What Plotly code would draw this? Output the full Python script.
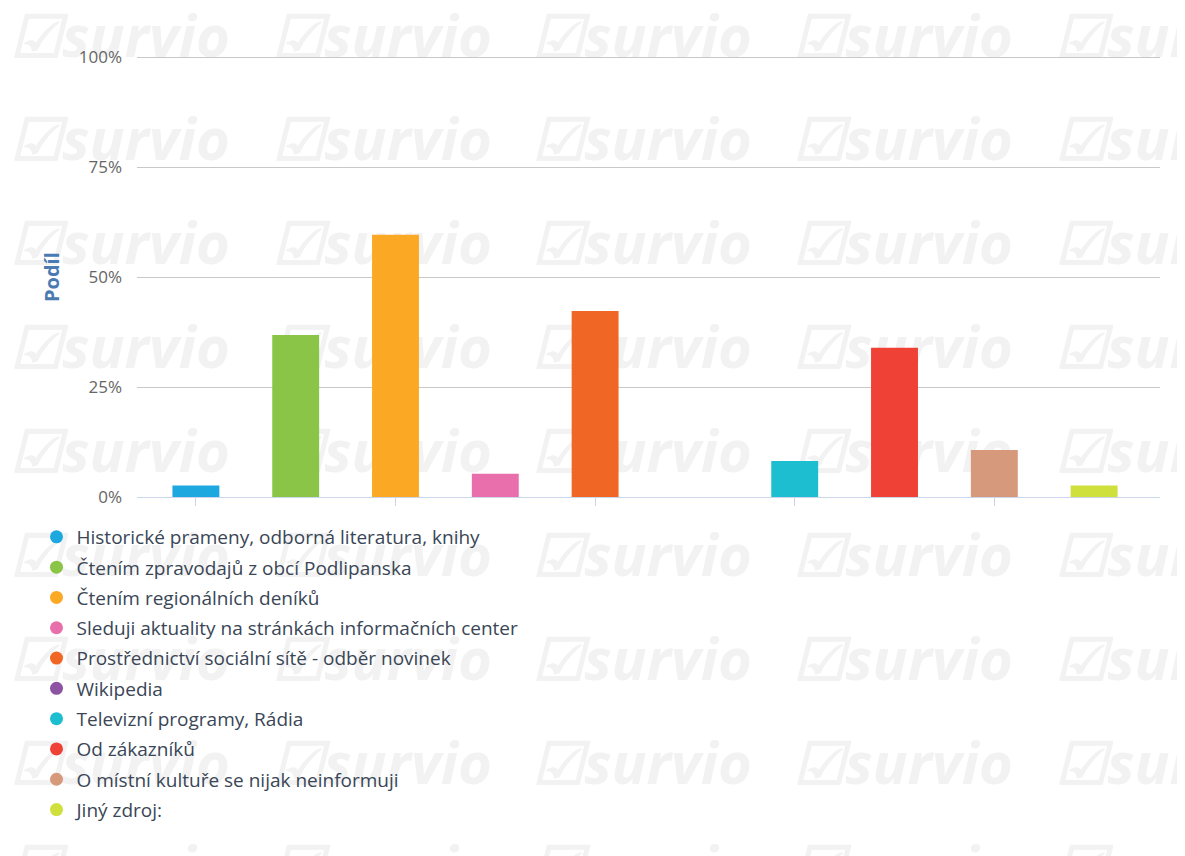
import plotly.graph_objects as go

categories = [
    "Historické prameny, odborná literatura, knihy",
    "Čtením zpravodajů z obcí Podlipanska",
    "Čtením regionálních deníků",
    "Sleduji aktuality na stránkách informačních center",
    "Prostřednictví sociální sítě - odběr novinek",
    "Wikipedia",
    "Televizní programy, Rádia",
    "Od zákazníků",
    "O místní kultuře se nijak neinformuji",
    "Jiný zdroj:",
]
values = [2.6, 36.8, 59.6, 5.3, 42.3, 0.0, 8.2, 33.9, 10.7, 2.6]
colors = ["#1ea8e0", "#8bc547", "#fba924", "#e86fab", "#f06625",
          "#8d53a3", "#1cbed0", "#ef4136", "#d6997b", "#cfdf3b"]
y_ticks = [0, 25, 50, 75, 100]
y_tick_labels = ["0%", "25%", "50%", "75%", "100%"]

OFF = 8  # page body margin
W, H = 1185 - OFF, 856 - OFF
L, T = 137 - OFF, 50 - OFF
R = W - (1160 - OFF)
B = H - (497 - OFF)
pw, ph = W - L - R, H - T - B
y_top = 100 * ph / 440.0

fig = go.Figure()

fig.add_trace(go.Bar(
    x=categories, y=values, marker=dict(color=colors, line=dict(width=0)),
    width=0.47, showlegend=False, hoverinfo="skip",
))

for i, (c, col) in enumerate(zip(categories, colors)):
    fig.add_trace(go.Scatter(
        x=[None], y=[None], mode="markers", name=c, legendgroup=f"g{i}",
        marker=dict(symbol="circle", size=13, color=col),
    ))

# watermark tiles (background), page coordinates of tile centre
shapes = []
cols = [15, 277, 537, 798, 1060]
rows = [55, 158, 262, 366, 470, 574, 678, 782, 886]
for bx in cols:
    for by in rows:
        cx = bx + 105 - OFF
        cy = by - 17 - OFF
        x0, x1 = cx - 120, cx + 120
        y0, y1 = cy - 35, cy + 35
        shapes.append(dict(
            type="rect", xref="paper", yref="paper", layer="below",
            x0=(x0 - L) / pw, x1=(x1 - L) / pw,
            y0=(H - B - y1) / ph, y1=(H - B - y0) / ph,
            line=dict(width=0), fillcolor="rgba(0,0,0,0)",
            label=dict(text="☑survio", textposition="middle center",
                       font=dict(family="Open Sans", size=58, color="#f2f2f2",
                                 weight="bold", style="italic")),
        ))

fig.update_layout(
    width=W, height=H,
    margin=dict(l=L, r=R, t=T, b=B, autoexpand=False),
    paper_bgcolor="white", plot_bgcolor="rgba(0,0,0,0)",
    font=dict(family="Open Sans", color="#666666"),
    shapes=shapes,
    showlegend=True,
    legend=dict(
        xref="container", yref="container", x=28.5 / W, y=1 - 510 / H,
        xanchor="left", yanchor="top", orientation="v",
        font=dict(size=19, color="#3a4656", family="Open Sans"),
        tracegroupgap=2.6, bgcolor="rgba(0,0,0,0)",
    ),
    xaxis=dict(
        type="category", categoryorder="array", categoryarray=categories,
        range=[-0.59, 9.66], showgrid=False,
        tickvals=categories[0::2], ticktext=[""] * 5, showticklabels=False,
        ticks="outside", ticklen=8, tickcolor="#ccd6eb", tickwidth=1,
        showline=True, linecolor="#ccd6eb", linewidth=1, zeroline=False,
    ),
    yaxis=dict(
        range=[0, y_top], tickvals=y_ticks, ticktext=y_tick_labels,
        showgrid=True, gridcolor="#c8c8c8", gridwidth=1,
        zeroline=False, showline=False,
        tickfont=dict(size=17, color="#666666"),
        ticklabelstandoff=14,
    ),
    annotations=[dict(
        text="<b>Podíl</b>", xref="paper", yref="paper",
        x=(51 - OFF - L) / pw, y=(497 - 277) / ph,
        xanchor="center", yanchor="middle", textangle=-90, showarrow=False,
        font=dict(size=20, color="#4a7ab2", family="Open Sans"),
    )],
)

fig.write_html("out.html")
